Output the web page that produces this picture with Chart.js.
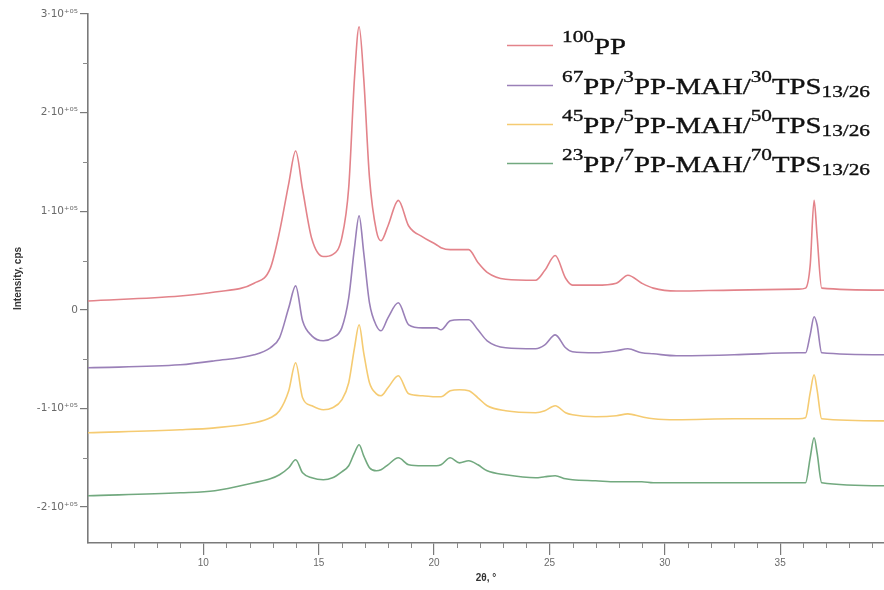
<!DOCTYPE html>
<html>
<head>
<meta charset="utf-8">
<script src="https://cdn.jsdelivr.net/npm/chart.js@4.4.1/dist/chart.umd.min.js"></script>
<style>
  html, body { margin: 0; padding: 0; background: #ffffff; }
  #wrap { position: relative; width: 884px; height: 590px; }
</style>
</head>
<body>
<div id="wrap"><canvas id="c" width="884" height="590"></canvas></div>
<script>
// 2θ (degrees) sampling positions
const theta = [5, 9, 10.5, 12.2, 12.9, 13.3, 13.7, 14.0, 14.3, 14.7,
  15.2, 15.6, 16.0, 16.3, 16.55, 16.75, 16.95, 17.2, 17.5, 17.7,
  18.0, 18.45, 18.9, 19.5, 20.1, 20.3, 20.7, 21.1, 21.5, 21.9,
  22.3, 23.1, 24.4, 24.8, 25.25, 25.7, 26.0, 27.0, 27.9, 28.4,
  29.0, 29.5, 30.5, 33, 35.8, 36.1, 36.3, 36.47, 36.6, 36.8, 39.5];

// Intensity, cps (offset traces as in the figure)
const pp100 = [9000, 14000, 18000, 27000, 42000, 79000, 128000, 161000, 122000, 72000,
  54000, 56000, 73000, 124000, 235000, 287000, 235000, 134000, 80000, 70000,
  85000, 111000, 85000, 74000, 66000, 63000, 61000, 61000, 61000, 48000,
  38000, 31000, 30000, 40000, 55000, 32000, 25000, 25000, 27000, 35000,
  27000, 22000, 19000, 20000, 21000, 22000, 45000, 111000, 75000, 22000, 20000];

const pp67 = [-58800, -55800, -51700, -45600, -38500, -28400, 2000, 24300, -11200, -26400,
  -31400, -28400, -18300, 12000, 63000, 95300, 58000, 7000, -16200, -21300,
  -8100, 7100, -15200, -18300, -18300, -20300, -11200, -10100, -10100, -20300,
  -31400, -38500, -39500, -35500, -25400, -38500, -42600, -43600, -41600, -39500,
  -43600, -44600, -46600, -45600, -43600, -43600, -25400, -7100, -15200, -43600, -45600];

const pp45 = [-124700, -121700, -119700, -114600, -109500, -102400, -82100, -53700, -89200, -97300,
  -101400, -99400, -91300, -74000, -38500, -15200, -43600, -74000, -85200, -87200,
  -79100, -66900, -85200, -87200, -88200, -88200, -82100, -81100, -82100, -89200,
  -97300, -102400, -104400, -102400, -97300, -104400, -106500, -108500, -107500, -105500,
  -108500, -110500, -111500, -110500, -110500, -109500, -84200, -65900, -81100, -110500, -112600];

const pp23 = [-188600, -185600, -183500, -175400, -171400, -167300, -160200, -152100, -165300, -170400,
  -172400, -170400, -164300, -158200, -145000, -136900, -148100, -160200, -163300, -162200,
  -157200, -150100, -157200, -158200, -158200, -157200, -150100, -155200, -153100, -157200,
  -163300, -167300, -170400, -169300, -168300, -171400, -172400, -173400, -174400, -174400,
  -174400, -175400, -175400, -175400, -175400, -175400, -150100, -129800, -145000, -175400, -178500];

// Legend labels: ^{..} = superscript, _{..} = subscript
const seriesLabels = [
  '^{100}PP',
  '^{67}PP/^{3}PP-MAH/^{30}TPS_{13/26}',
  '^{45}PP/^{5}PP-MAH/^{50}TPS_{13/26}',
  '^{23}PP/^{7}PP-MAH/^{70}TPS_{13/26}'
];
const seriesColors = ['#e3838a', '#9a80b8', '#f5cb72', '#72a97f'];
const seriesValues = [pp100, pp67, pp45, pp23];

const xMajorTicks = [10, 15, 20, 25, 30, 35];
const yMajorTicks = [-200000, -100000, 0, 100000, 200000, 300000];

function plainLabel(s) { return s.replace(/[\^_]\{([^}]*)\}/g, '$1'); }
function parseLabel(s) {
  const out = []; const re = /(\^|_)\{([^}]*)\}|([^\^_]+)/g; let m;
  while ((m = re.exec(s)) !== null) {
    if (m[1] === '^') out.push(['sup', m[2]]);
    else if (m[1] === '_') out.push(['sub', m[2]]);
    else out.push(['n', m[3]]);
  }
  return out;
}

const supDigits = {'0':'⁰','1':'¹','2':'²','3':'³','4':'⁴','5':'⁵','6':'⁶','7':'⁷','8':'⁸','9':'⁹','+':'⁺','-':'⁻'};
function yTickLabel(v) {
  if (v === 0) return '0';
  const m = Math.round(v / 100000);
  return m + '·10' + '+05'.split('').map(c => supDigits[c]).join('');
}

const minorTicksPlugin = {
  id: 'minorTicks',
  afterDraw(chart) {
    const { ctx, scales: { x, y }, chartArea } = chart;
    ctx.save();
    ctx.strokeStyle = '#8a8a8a';
    ctx.lineWidth = 1;
    ctx.beginPath();
    for (let v = 6; v <= 39; v++) {
      if (v % 5 === 0) continue;
      const px = Math.round(x.getPixelForValue(v)) + 0.5;
      ctx.moveTo(px, chartArea.bottom);
      ctx.lineTo(px, chartArea.bottom + 5);
    }
    for (let v = -150000; v <= 250000; v += 100000) {
      const py = Math.round(y.getPixelForValue(v)) + 0.5;
      ctx.moveTo(chartArea.left - 5, py);
      ctx.lineTo(chartArea.left, py);
    }
    ctx.stroke();
    ctx.restore();
  }
};

const legendPlugin = {
  id: 'richLegend',
  afterDraw(chart) {
    const { ctx } = chart;
    const lineYs = [45, 85, 124, 163];
    const textX = 562, sampleX0 = 507, sampleX1 = 553;
    const fam = '"Liberation Serif", "Times New Roman", serif';
    const fonts = { n: '23px ' + fam, sup: '17px ' + fam, sub: '17px ' + fam };
    const dys = { n: 0, sup: -12, sub: 3 };
    const parsed = seriesLabels.map(parseLabel);
    ctx.save();
    let maxW = 0;
    parsed.forEach(pieces => {
      let w = 0;
      pieces.forEach(([k, t]) => { ctx.font = fonts[k]; w += ctx.measureText(t).width; });
      maxW = Math.max(maxW, w);
    });
    const sx = 308 / maxW;
    parsed.forEach((pieces, i) => {
      const ly = lineYs[i];
      ctx.strokeStyle = seriesColors[i];
      ctx.lineWidth = 1.6;
      ctx.beginPath();
      ctx.moveTo(sampleX0, ly + 0.5);
      ctx.lineTo(sampleX1, ly + 0.5);
      ctx.stroke();
      ctx.save();
      ctx.translate(textX, ly + 9);
      ctx.scale(sx, 1);
      ctx.fillStyle = '#111111';
      ctx.strokeStyle = '#111111';
      ctx.lineWidth = 0.35;
      ctx.textBaseline = 'alphabetic';
      ctx.textAlign = 'left';
      let cx = 0;
      pieces.forEach(([k, t]) => {
        ctx.font = fonts[k];
        ctx.fillText(t, cx, dys[k]);
        ctx.strokeText(t, cx, dys[k]);
        cx += ctx.measureText(t).width;
      });
      ctx.restore();
    });
    ctx.restore();
  }
};

const datasets = seriesValues.map((vals, i) => ({
  label: plainLabel(seriesLabels[i]),
  data: theta.map((t, j) => ({ x: t, y: vals[j] })),
  borderColor: seriesColors[i],
  backgroundColor: seriesColors[i],
  borderWidth: 1.6,
  pointRadius: 0,
  fill: false,
  cubicInterpolationMode: 'monotone'
}));

new Chart(document.getElementById('c'), {
  type: 'line',
  data: { datasets },
  options: {
    responsive: false,
    animation: false,
    events: [],
    layout: { padding: { top: 14, right: 0, bottom: 0, left: 0 } },
    plugins: { legend: { display: false }, tooltip: { enabled: false } },
    scales: {
      x: {
        type: 'linear',
        min: 5,
        max: 39.5,
        afterBuildTicks(scale) { scale.ticks = xMajorTicks.map(v => ({ value: v })); },
        afterFit(scale) { scale.height = 47; },
        ticks: { color: '#6a6a6a', font: { family: '"Liberation Sans", Arial, sans-serif', size: 10 }, padding: 2, maxRotation: 0 },
        grid: { drawOnChartArea: false, drawTicks: true, tickLength: 12, color: '#7a7a7a', lineWidth: 1.2 },
        border: { display: true, color: '#7a7a7a', width: 1.6 },
        title: { display: true, text: '2θ, °', color: '#333', font: { family: '"Liberation Sans", Arial, sans-serif', size: 10, weight: 'bold' }, padding: { top: 0, bottom: 6 } }
      },
      y: {
        type: 'linear',
        min: -236500,
        max: 300000,
        afterBuildTicks(scale) { scale.ticks = yMajorTicks.map(v => ({ value: v })); },
        afterFit(scale) { scale.width = 88; },
        ticks: { color: '#6a6a6a', font: { family: '"DejaVu Sans", "Liberation Sans", sans-serif', size: 10.5 }, padding: 2, callback: (v) => yTickLabel(v) },
        grid: { drawOnChartArea: false, drawTicks: true, tickLength: 8, color: '#7a7a7a', lineWidth: 1.2 },
        border: { display: true, color: '#7a7a7a', width: 1.6 },
        title: { display: true, text: 'Intensity, cps', color: '#333', font: { family: '"Liberation Sans", Arial, sans-serif', size: 10, weight: 'bold' }, padding: { top: 12, bottom: 12 } }
      }
    }
  },
  plugins: [minorTicksPlugin, legendPlugin]
});
</script>
</body>
</html>
